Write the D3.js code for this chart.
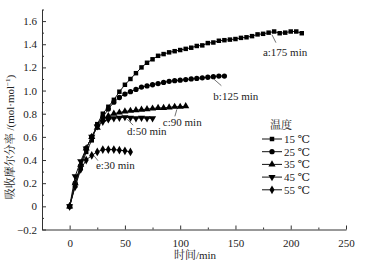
<!DOCTYPE html>
<html>
<head>
<meta charset="utf-8">
<script src="https://cdn.jsdelivr.net/npm/d3@7"></script>
<style>
  body { margin: 0; background: #fff; }
  svg text { font-family: "Times New Roman", "Liberation Serif", "DejaVu Serif", "Noto Serif CJK SC", "Noto Sans CJK SC", serif; fill: #222; }
</style>
</head>
<body>
<script>
// absorption mole ratio vs time, 5 temperatures
var temps = ["15 ℃", "25 ℃", "35 ℃", "45 ℃", "55 ℃"];
var step = 5; // sampling interval, min
var s15 = [0, 0.18, 0.33, 0.47, 0.57, 0.71, 0.80, 0.86, 0.92, 0.99, 1.05, 1.10, 1.15, 1.20, 1.24, 1.27,
           1.30, 1.315, 1.33, 1.34, 1.35, 1.36, 1.37, 1.385, 1.39, 1.41, 1.415, 1.43, 1.435, 1.44, 1.445,
           1.455, 1.46, 1.47, 1.485, 1.49, 1.50, 1.51, 1.495, 1.50, 1.51, 1.51, 1.495];
var s25 = [0, 0.20, 0.35, 0.50, 0.60, 0.70, 0.77, 0.84, 0.90, 0.94, 0.97, 0.99, 1.01, 1.03, 1.04, 1.05,
           1.06, 1.07, 1.08, 1.085, 1.09, 1.095, 1.10, 1.105, 1.11, 1.115, 1.12, 1.125, 1.125];
var s35 = [0, 0.20, 0.36, 0.50, 0.60, 0.68, 0.75, 0.78, 0.80, 0.81, 0.82, 0.825, 0.83, 0.835, 0.84, 0.845,
           0.85, 0.85, 0.855, 0.86, 0.86, 0.865];
var s45 = [0, 0.26, 0.39, 0.50, 0.60, 0.69, 0.73, 0.75, 0.76, 0.765, 0.77, 0.765, 0.76, 0.765, 0.76, 0.76];
var s55 = [0, 0.17, 0.32, 0.40, 0.44, 0.47, 0.49, 0.49, 0.49, 0.485, 0.48, 0.47];
var series = [s15, s25, s35, s45, s55];

var xTicks = [0, 50, 100, 150, 200, 250];
var xMinor = [25, 75, 125, 175, 225];
var yTicks = [-0.2, 0, 0.2, 0.4, 0.6, 0.8, 1.0, 1.2, 1.4, 1.6];
var yMinor = [-0.1, 0.1, 0.3, 0.5, 0.7, 0.9, 1.1, 1.3, 1.5, 1.7];

// curve notes
var notes = ["a:175 min", "b:125 min", "c:90 min", "d:50 min", "e:30 min"];

var w = 367, h = 267;
var svg = d3.select("body").append("svg").attr("width", w).attr("height", h);

var x = d3.scaleLinear().domain([-25, 250]).range([42, 346]);
var y = d3.scaleLinear().domain([-0.2, 1.7]).range([229.5, 9.5]);

var fmt = function(d){ return d === 0 ? "0" : d3.format(".1f")(d); };

// axes, ticks point inward
svg.append("g").attr("transform", "translate(42,0)")
    .call(d3.axisLeft(y).tickValues(yTicks).tickSizeInner(-4).tickSizeOuter(0).tickPadding(5).tickFormat(fmt));
svg.append("g").attr("transform", "translate(42,0)")
    .call(d3.axisLeft(y).tickValues(yMinor).tickSizeInner(-2).tickSizeOuter(0).tickFormat(""))
    .select(".domain").remove();
svg.append("g").attr("transform", "translate(0,229.5)")
    .call(d3.axisBottom(x).tickValues(xTicks).tickSizeInner(-4).tickSizeOuter(0).tickPadding(10));
svg.append("g").attr("transform", "translate(0,229.5)")
    .call(d3.axisBottom(x).tickValues(xMinor).tickSizeInner(-2).tickSizeOuter(0).tickFormat(""))
    .select(".domain").remove();
svg.selectAll("g").attr("font-family", null);
svg.selectAll(".domain, .tick line").attr("stroke", "#333").attr("stroke-width", 1);
svg.selectAll(".tick text").style("font-size", "11px").attr("fill", "#222");

// axis titles
svg.append("text")
    .attr("x", 195).attr("y", 259)
    .attr("text-anchor", "middle")
    .style("font-size", "11px")
    .text("时间/min");

var yl = svg.append("text")
    .attr("transform", "translate(14,137) rotate(-90)")
    .attr("text-anchor", "middle")
    .style("font-size", "11px");
yl.append("tspan").text("吸收摩尔分率 /(mol·mol");
yl.append("tspan").attr("dy", -4).style("font-size", "7px").text("−1");
yl.append("tspan").attr("dy", 4).text(")");

// markers
var shapes = [
    d3.symbol().type(d3.symbolSquare).size(20),
    d3.symbol().type(d3.symbolCircle).size(22),
    d3.symbol().type(d3.symbolTriangle).size(22),
    d3.symbol().type(d3.symbolTriangle).size(22),
    d3.symbol().type(d3.symbolDiamond).size(22)
];
var rot = [0, 0, 0, 180, 0];

var line = d3.line()
    .x(function(d, i){ return x(i * step); })
    .y(function(d){ return y(d); });

series.forEach(function(s, k){
    svg.append("path")
        .datum(s)
        .attr("d", line)
        .attr("fill", "none")
        .attr("stroke", "#111")
        .attr("stroke-width", 1);
    svg.selectAll(".m" + k)
        .data(s)
        .enter()
        .append("path")
        .attr("class", "m" + k)
        .attr("d", shapes[k])
        .attr("transform", function(d, i){
            return "translate(" + x(i * step) + "," + y(d) + ") rotate(" + rot[k] + ")";
        })
        .attr("fill", "#000");
});

// curve notes with leader lines
var noteAt = [[183, 1.50], [130, 1.12], [97, 0.855], [52, 0.77], [22, 0.455]];
var noteOff = [[4, 10, -13, 21], [8, 9, -8, 22], [-2, 9, -12, 18], [6, 8, -6, 18], [4, 7, -2, 16]];
notes.forEach(function(t, k){
    var px = x(noteAt[k][0]), py = y(noteAt[k][1]);
    var o = noteOff[k];
    svg.append("line")
        .attr("x1", px).attr("y1", py + 2)
        .attr("x2", px + o[0]).attr("y2", py + o[1])
        .attr("stroke", "#333").attr("stroke-width", 0.7);
    svg.append("text")
        .attr("x", px + o[0] + o[2]).attr("y", py + o[1] + o[3] - 8)
        .style("font-size", "11px")
        .text(t);
});

// legend
var lg = svg.append("g").attr("transform", "translate(262,0)");
lg.append("text").attr("x", 8).attr("y", 129).style("font-size", "11px").text("温度");
temps.forEach(function(t, k){
    var ly = 139 + k * 12.7;
    lg.append("line").attr("x1", 0).attr("x2", 20).attr("y1", ly).attr("y2", ly)
        .attr("stroke", "#111").attr("stroke-width", 1);
    lg.append("path").attr("d", shapes[k])
        .attr("transform", "translate(10," + ly + ") rotate(" + rot[k] + ")")
        .attr("fill", "#000");
    lg.append("text").attr("x", 22).attr("y", ly + 4).style("font-size", "11px").text(t);
});
</script>
</body>
</html>
